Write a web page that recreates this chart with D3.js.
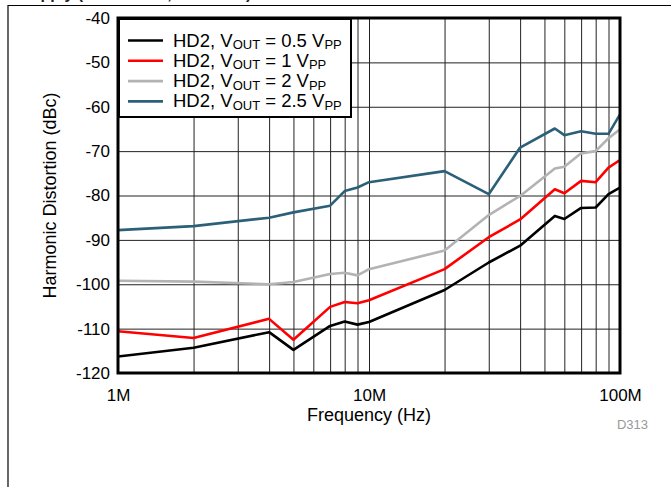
<!DOCTYPE html>
<html><head><meta charset="utf-8">
<script src="https://cdn.jsdelivr.net/npm/d3@7"></script>
<style>
html,body{margin:0;padding:0;background:#fff;}
svg{display:block;font-family:"Liberation Sans",Arial,sans-serif;}
</style></head>
<body>
<svg id="c" width="671" height="487"></svg>
<script>
// ---- data ----
const freqHz = [1e6,2e6,4e6,5e6,7e6,8e6,9e6,10e6,20e6,30e6,40e6,55e6,60e6,70e6,80e6,90e6,100e6];
const hd2_05 = [-116.3,-114.3,-110.8,-114.8,-109.4,-108.4,-109.1,-108.5,-101.3,-95.1,-91.3,-84.6,-85.3,-82.8,-82.7,-79.7,-78.2];
const hd2_1  = [-110.6,-112.1,-107.8,-112.5,-105.1,-104.0,-104.3,-103.6,-96.6,-89.4,-85.4,-78.6,-79.5,-76.7,-77.0,-73.7,-72.0];
const hd2_2  = [-99.2,-99.4,-100.0,-99.5,-97.7,-97.4,-98.0,-96.6,-92.4,-84.4,-80.1,-73.9,-73.5,-70.5,-70.0,-67.1,-65.1];
const hd2_25 = [-87.8,-86.9,-85.0,-83.8,-82.3,-79.0,-78.2,-77.0,-74.5,-79.7,-69.2,-64.9,-66.4,-65.5,-66.1,-66.1,-61.7];
const seriesNames = ["0.5","1","2","2.5"];
const yTicks = [-120,-110,-100,-90,-80,-70,-60,-50,-40];
const xTickLabels = {1e6:"1M",1e7:"10M",1e8:"100M"};

const series = [
  {v:seriesNames[0], vals:hd2_05, color:"#000000"},
  {v:seriesNames[1], vals:hd2_1,  color:"#ff0000"},
  {v:seriesNames[2], vals:hd2_2,  color:"#b3b3b3"},
  {v:seriesNames[3], vals:hd2_25, color:"#2b6078"}
];

const L=118, R=620, T=18, B=373;
const svg = d3.select("#c");
const x = d3.scaleLog().domain([1e6,1e8]).range([L,R]);
const y = d3.scaleLinear().domain([-120,-40]).range([B,T]);

// outer frame
svg.append("line").attr("x1",8).attr("x2",671).attr("y1",5.5).attr("y2",5.5).attr("stroke","#000").attr("stroke-width",1.2);
svg.append("line").attr("x1",8).attr("x2",8).attr("y1",5).attr("y2",487).attr("stroke","#000").attr("stroke-width",1.2);

// partial texts at top/bottom (cut off in the reference too)
svg.append("text").attr("x",20).attr("y",-1).attr("font-size",16).attr("font-weight","bold").attr("fill","#222")
  .text("Supply (VS = ±2.5 V, G = 2 V/V)");
svg.append("text").attr("x",358).attr("y",499).attr("text-anchor","middle").attr("font-size",16).attr("font-weight","bold").attr("fill","#333")
  .attr("textLength",523).text("Figure 46. Harmonic Distortion (HD2) vs Output Swing");

// grid
const minor = [];
for (const dec of [1e6,1e7]) for (let k=1;k<=9;k++) minor.push(k*dec);
minor.push(1e8);
const gx = svg.append("g").attr("transform",`translate(0,${B})`)
  .call(d3.axisBottom(x).tickValues(minor).tickSize(-(B-T)).tickFormat(""));
gx.select(".domain").remove();
gx.selectAll("line").attr("stroke","#222").attr("stroke-width",1);
const gy = svg.append("g").attr("transform",`translate(${L},0)`)
  .call(d3.axisLeft(y).tickValues(yTicks).tickSize(-(R-L)).tickFormat(""));
gy.select(".domain").remove();
gy.selectAll("line").attr("stroke","#222").attr("stroke-width",1);

// lines
svg.append("clipPath").attr("id","cp").append("rect").attr("x",L).attr("y",T).attr("width",R-L).attr("height",B-T);
const line = d3.line().x((d,i)=>x(freqHz[i])).y(d=>y(d));
const order = [3,2,1,0];
for (const i of order) {
  svg.append("path").datum(series[i].vals).attr("d",line).attr("fill","none")
    .attr("stroke",series[i].color).attr("stroke-width",2.6).attr("stroke-linejoin","round")
    .attr("clip-path","url(#cp)");
}

// axis labels
const ax = svg.append("g").attr("transform",`translate(0,${B})`)
  .call(d3.axisBottom(x).tickValues([1e6,1e7,1e8]).tickSize(0).tickPadding(16).tickFormat(d=>xTickLabels[d]));
ax.select(".domain").remove();
ax.selectAll("text").attr("font-size",17).attr("fill","#000").attr("font-family","Liberation Sans, Arial, sans-serif");
const ay = svg.append("g").attr("transform",`translate(${L},0)`)
  .call(d3.axisLeft(y).tickValues(yTicks).tickSize(0).tickPadding(8).tickFormat(d=>String(d)));
ay.select(".domain").remove();
ay.selectAll("text").attr("font-size",17).attr("fill","#000").attr("font-family","Liberation Sans, Arial, sans-serif");

svg.append("text").attr("x",(L+R)/2).attr("y",421).attr("text-anchor","middle").attr("font-size",18).text("Frequency (Hz)");
svg.append("text").attr("transform",`translate(56,${(T+B)/2}) rotate(-90)`).attr("text-anchor","middle").attr("font-size",18)
  .text("Harmonic Distortion (dBc)");
svg.append("text").attr("x",648).attr("y",429).attr("text-anchor","end").attr("font-size",13).attr("fill","#999").text("D313");

// legend
const lg = svg.append("g");
lg.append("rect").attr("x",119).attr("y",19).attr("width",232).attr("height",98).attr("fill","#fff").attr("stroke","#000").attr("stroke-width",2);
series.forEach((s,i)=>{
  const by = 46.5 + i*20.3;
  lg.append("line").attr("x1",128).attr("x2",163).attr("y1",by-6).attr("y2",by-6).attr("stroke",s.color).attr("stroke-width",2.6);
  const t = lg.append("text").attr("x",173).attr("y",by).attr("font-size",18.5);
  t.append("tspan").text("HD2, V");
  t.append("tspan").attr("font-size",13).attr("dy",2.5).text("OUT");
  t.append("tspan").attr("dy",-2.5).text(` = ${s.v} V`);
  t.append("tspan").attr("font-size",13).attr("dy",2.5).text("PP");
});

// plot border
svg.append("rect").attr("x",L).attr("y",T).attr("width",R-L).attr("height",B-T).attr("fill","none").attr("stroke","#000").attr("stroke-width",3);
</script>
</body></html>
